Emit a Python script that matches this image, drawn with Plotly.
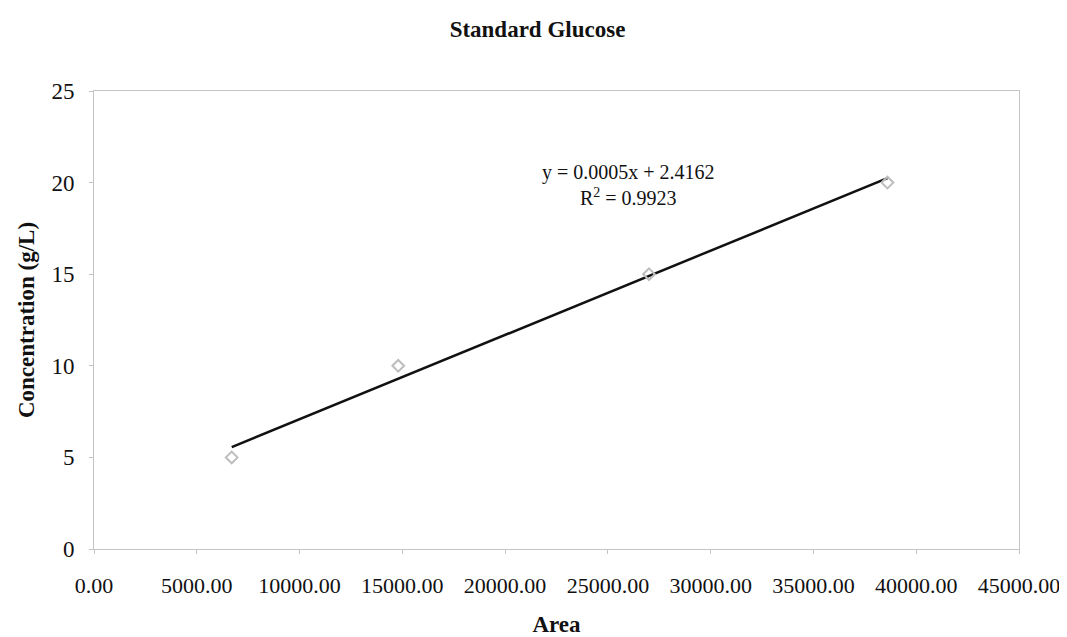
import numpy as np
import plotly.graph_objects as go

area = [6700, 14800, 27000, 38600]
concentration = [5, 10, 15, 20]
x_ticks = [0, 5000, 10000, 15000, 20000, 25000, 30000, 35000, 40000, 45000]
y_ticks = [0, 5, 10, 15, 20, 25]
equation_text = "y = 0.0005x + 2.4162<br>R<sup>2</sup> = 0.9923"

slope, intercept = np.polyfit(area, concentration, 1)
fit_x = [min(area), max(area)]
fit_y = [slope * v + intercept for v in fit_x]

font = "Liberation Serif, Times New Roman, serif"

fig = go.Figure()
fig.add_trace(go.Scatter(x=fit_x, y=fit_y, mode="lines",
                         line=dict(color="#111111", width=2.5), showlegend=False))
fig.add_trace(go.Scatter(x=area, y=concentration, mode="markers",
                         marker=dict(symbol="diamond-open", size=9, color="#bdbdbd",
                                     line=dict(width=2, color="#bdbdbd")),
                         showlegend=False))

fig.add_annotation(x=25980, y=21.3, xref="x", yref="y", text=equation_text,
                   showarrow=False, align="center", yanchor="top",
                   font=dict(family=font, size=20, color="#111111"))

fig.update_layout(
    width=1059, height=629,
    margin=dict(l=86, r=48, t=83, b=88),
    paper_bgcolor="white", plot_bgcolor="white",
    title=dict(text="<b>Standard Glucose</b>", x=0.5, xanchor="center", y=0.967,
               yref="container", yanchor="middle",
               font=dict(family=font, size=23, color="#111111")),
    font=dict(family=font, color="#111111"),
    xaxis=dict(range=[0, 45000], tickvals=x_ticks, automargin=False,
               ticktext=[f"{v:.2f}" for v in x_ticks],
               showgrid=False, zeroline=False, showline=True, linecolor="#c4c4c4",
               linewidth=1, mirror=True, ticks="outside", ticklen=4, tickcolor="#c4c4c4",
               ticklabelstandoff=13,
               tickfont=dict(family=font, size=22, color="#111111"),
               title=dict(text="<b>Area</b>", font=dict(family=font, size=23), standoff=21)),
    yaxis=dict(range=[0, 25], tickvals=y_ticks, automargin=False,
               showgrid=False, zeroline=False, showline=True, linecolor="#c4c4c4",
               linewidth=1, mirror=True, ticks="outside", ticklen=4, tickcolor="#c4c4c4",
               ticklabelstandoff=10,
               tickfont=dict(family=font, size=23, color="#111111"),
               title=dict(text="<b>Concentration (g/L)</b>", font=dict(family=font, size=23),
                          standoff=10)),
)

fig.write_html("out.html")
